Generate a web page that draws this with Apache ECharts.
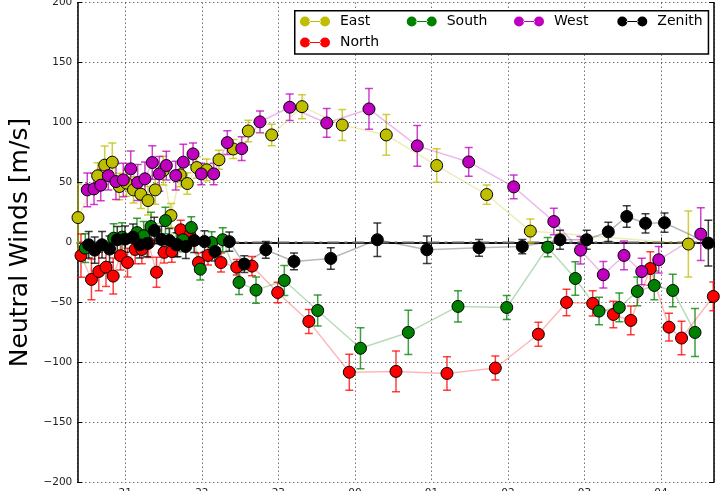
<!DOCTYPE html>
<html>
<head>
<meta charset="utf-8">
<script src="https://cdn.jsdelivr.net/npm/echarts@6/dist/echarts.min.js"></script>
<style>
  html, body { margin: 0; padding: 0; background: #fff; }
  #chart { width: 721px; height: 491px; }
</style>
</head>
<body>
<div id="chart"></div>
<script>
// Universal time in hours (values past midnight continue as 24, 25, ...)
const X_MIN = 20.373;
const X_MAX = 28.692;
const Y_MIN = -200;
const Y_MAX = 200;
const Y_STEP = 50;

// East look direction
const eastT = [20.382, 20.639, 20.731, 20.830, 20.922, 21.016, 21.107, 21.203, 21.297, 21.392,
               21.497, 21.597, 21.719, 21.810, 21.934, 22.064, 22.224, 22.411, 22.607, 22.913,
               23.309, 23.835, 24.410, 25.069, 25.722, 26.292, 28.357];
const eastV = [20.8, 55.6, 64.5, 67.0, 46.7, 49.5, 43.9, 40.3, 35.0, 43.9,
               60.0, 22.5, 56.4, 49.2, 62.5, 60.6, 69.0, 78.0, 93.0, 89.7,
               113.3, 98.0, 89.7, 64.2, 40.0, 9.5, -1.3];
const eastE = [28, 11, 16, 16, 11, 11, 11, 12, 12, 12,
               12, 10, 10, 9, 9, 9, 8, 8, 9, 9,
               10, 13, 17, 14, 8, 10, 27.5];

// North look direction
const northT = [20.421, 20.558, 20.654, 20.748, 20.842, 20.937, 21.029, 21.129, 21.216, 21.303,
                21.408, 21.508, 21.608, 21.724, 21.843, 21.956, 22.081, 22.250, 22.456, 22.656,
                22.991, 23.398, 23.927, 24.537, 25.203, 25.835, 26.397, 26.765, 27.107, 27.377,
                27.605, 27.860, 28.104, 28.268, 28.683];
const northV = [-10.9, -30.8, -24.2, -20.6, -28.0, -11.0, -16.7, -5.8, -5.8, -0.5,
                -24.8, -8.2, -7.5, 10.6, 6.1, -16.7, -10.8, -16.7, -20.6, -19.7,
                -41.7, -65.8, -108.2, -107.5, -109.2, -104.7, -76.5, -50.0, -50.8, -60.0,
                -65.0, -21.7, -70.6, -79.7, -45.0];
const northE = [18, 17, 16, 16, 15, 12, 12, 12, 12, 12,
                12.5, 9, 9, 8, 8, 8, 8, 8, 6.5, 8,
                8.5, 10, 15, 17, 14, 10, 10, 11, 10.5, 11,
                12, 14, 11.5, 14, 12];

// South look direction
const southT = [20.477, 20.848, 20.957, 21.153, 21.240, 21.336, 21.525, 21.666, 21.754, 21.862,
                21.980, 22.129, 22.273, 22.486, 22.708, 23.078, 23.514, 24.073, 24.698, 25.347,
                25.984, 26.519, 26.880, 27.190, 27.455, 27.690, 27.912, 28.153, 28.444];
const southV = [-4.7, 3.6, 4.5, 8.3, 5.6, 13.3, 18.3, -1.9, 2.3, 12.5,
                -22.2, 0.0, 2.3, -33.3, -39.7, -31.7, -56.7, -88.2, -75.0, -53.3,
                -54.2, -3.9, -30.0, -57.2, -54.2, -40.8, -35.8, -40.0, -75.0];
const southE = [12, 12, 12, 12, 12, 12, 11, 10, 10, 9,
                9, 9, 10, 10, 11, 12.5, 13, 17, 18.5, 13,
                10, 8, 14, 11.5, 12, 12, 12, 13.5, 20];

// West look direction
const westT = [20.503, 20.591, 20.679, 20.778, 20.878, 20.974, 21.071, 21.162, 21.257, 21.353,
               21.444, 21.536, 21.659, 21.758, 21.885, 21.993, 22.155, 22.333, 22.521, 22.760,
               23.148, 23.632, 24.184, 24.815, 25.487, 26.075, 26.599, 26.948, 27.246, 27.516,
               27.748, 27.970, 28.519];
const westV = [43.9, 44.7, 47.8, 55.8, 50.8, 52.2, 61.4, 50.0, 53.1, 66.7,
               57.2, 64.2, 55.8, 67.0, 73.9, 57.2, 57.2, 83.3, 78.3, 100.6,
               112.8, 99.7, 111.4, 80.6, 67.2, 46.4, 17.5, -6.4, -26.9, -10.8,
               -24.2, -14.4, 7.0];
const westE = [14, 13, 13, 12, 15, 14, 15, 15, 14, 14,
               14.5, 12, 12, 15, 9, 9, 9, 10, 10, 9,
               11, 12, 17, 17, 12, 10, 11, 11.5, 11, 12,
               11, 11, 22];

// Zenith
const zenithT = [20.522, 20.600, 20.696, 20.794, 20.895, 20.996, 21.101, 21.189, 21.286, 21.379,
                 21.473, 21.575, 21.682, 21.791, 21.900, 22.035, 22.172, 22.359, 22.555, 22.836,
                 23.204, 23.685, 24.293, 24.940, 25.622, 26.187, 26.680, 27.029, 27.311, 27.552,
                 27.797, 28.045, 28.618];
const zenithV = [-1.9, -6.4, -1.9, -5.5, 2.3, 2.8, 4.5, -1.9, -0.8, 10.0,
                 2.5, 1.7, -1.9, -3.3, 1.7, 0.8, -7.5, 0.7, -18.0, -6.1,
                 -15.8, -13.3, 2.3, -6.1, -4.4, -3.4, 2.3, 2.3, 8.9, 21.7,
                 16.0, 16.5, -0.5];
const zenithE = [11, 11, 11, 11, 11, 11, 11, 11, 11, 11,
                 11, 10, 10, 10, 10, 9, 8, 8, 7, 7,
                 7, 9, 14, 11.5, 7, 6, 8, 8, 8, 9,
                 8, 8, 19];

const FONT = 'DejaVu Sans';

const groups = [
  { name: 'East',   color: '#bfbf00', t: eastT,   v: eastV,   e: eastE },
  { name: 'North',  color: '#ff0000', t: northT,  v: northV,  e: northE },
  { name: 'South',  color: '#008000', t: southT,  v: southV,  e: southE },
  { name: 'West',   color: '#bf00bf', t: westT,   v: westV,   e: westE },
  { name: 'Zenith', color: '#000000', t: zenithT, v: zenithV, e: zenithE }
];

function errorBarRenderer(color) {
  return function (params, api) {
    const x = api.value(0), y = api.value(1), e = api.value(2);
    const top = api.coord([x, y + e]);
    const bot = api.coord([x, y - e]);
    const cap = 4;
    const style = { stroke: color, lineWidth: 1.5, opacity: 0.75 };
    return {
      type: 'group',
      children: [
        { type: 'line', shape: { x1: top[0], y1: top[1], x2: bot[0], y2: bot[1] }, style: style },
        { type: 'line', shape: { x1: top[0] - cap, y1: top[1], x2: top[0] + cap, y2: top[1] }, style: style },
        { type: 'line', shape: { x1: bot[0] - cap, y1: bot[1], x2: bot[0] + cap, y2: bot[1] }, style: style }
      ]
    };
  };
}

const series = [];

// dash-dot zero reference
series.push({
  type: 'line',
  name: 'zero',
  data: [[X_MIN, 0], [X_MAX, 0]],
  symbol: 'none',
  silent: true,
  z: 1,
  lineStyle: { color: '#666', width: 2, type: [12, 5, 3, 5] }
});

groups.forEach(function (g) {
  const errData = g.t.map(function (t, i) { return [t, g.v[i], g.e[i]]; });
  const ptData = g.t.map(function (t, i) { return [t, g.v[i]]; });
  series.push({
    type: 'custom',
    name: g.name + ' error',
    renderItem: errorBarRenderer(g.color),
    data: errData,
    encode: { x: 0, y: 1 },
    clip: true,
    silent: true,
    z: 2
  });
  series.push({
    type: 'line',
    name: g.name,
    data: ptData,
    symbol: 'circle',
    symbolSize: 12,
    showAllSymbol: true,
    clip: true,
    z: 2,
    itemStyle: { color: g.color, borderColor: '#000', borderWidth: 1 },
    lineStyle: { color: g.color, width: 1.5, opacity: 0.28 },
    emphasis: { disabled: true }
  });
});

// legend handle: two markers joined by a line
const handleIcon = 'path://M0,5a5,5 0 1,0 10,0a5,5 0 1,0 -10,0zM20,5a5,5 0 1,0 10,0a5,5 0 1,0 -10,0zM9,4.4h12v1.2h-12z';

function legendEntry(name, left, top) {
  return {
    data: [name],
    left: left,
    top: top,
    padding: 0,
    icon: handleIcon,
    itemWidth: 30,
    itemHeight: 10,
    itemStyle: { borderWidth: 0 },
    selectedMode: false,
    textStyle: { fontFamily: FONT, fontSize: 14, color: '#000', padding: [0, 0, 0, 5] },
    z: 5
  };
}

const hourLabel = function (v) {
  const h = Math.round(v) % 24;
  return (h < 10 ? '0' : '') + h;
};
const valueLabel = function (v) {
  return v < 0 ? '\u2212' + Math.abs(v) : String(v);
};

const option = {
  animation: false,
  backgroundColor: '#fff',
  grid: { left: 77.3, right: 7, top: 2.7, bottom: 8.7, containLabel: false, outerBoundsMode: 'none' },
  legend: [
    legendEntry('East', 300, 14.5),
    legendEntry('South', 406.7, 14.5),
    legendEntry('West', 514, 14.5),
    legendEntry('Zenith', 617.3, 14.5),
    legendEntry('North', 300, 35.5)
  ],
  graphic: [{
    type: 'rect',
    left: 294, top: 10,
    shape: { width: 413.7, height: 43.3 },
    style: { fill: '#fff', stroke: '#000', lineWidth: 1.5 },
    z: 3,
    silent: true
  }],
  xAxis: [{
    type: 'value',
    min: X_MIN, max: X_MAX, splitNumber: 8,
    position: 'bottom',
    axisLine: { lineStyle: { color: '#000', width: 1.5 } },
    axisTick: { inside: true, length: 5, lineStyle: { color: '#000' } },
    axisLabel: { margin: 5, fontFamily: FONT, fontSize: 10.5, color: '#222',
                 formatter: hourLabel, showMinLabel: false, showMaxLabel: false },
    splitLine: { show: true, lineStyle: { color: '#333', width: 1, type: [1, 3] } }
  }, {
    type: 'value',
    min: X_MIN, max: X_MAX, splitNumber: 8,
    position: 'top',
    axisLine: { lineStyle: { color: '#000', width: 1.5 } },
    axisTick: { inside: true, length: 5, lineStyle: { color: '#000' } },
    axisLabel: { show: false },
    splitLine: { show: false }
  }],
  yAxis: [{
    type: 'value',
    min: Y_MIN, max: Y_MAX, interval: Y_STEP,
    position: 'left',
    name: 'Neutral Winds [m/s]',
    nameLocation: 'middle',
    nameRotate: 90,
    nameGap: 42,
    nameTextStyle: { fontFamily: FONT, fontSize: 25, color: '#000' },
    axisLine: { lineStyle: { color: '#000', width: 1.5 } },
    axisTick: { inside: true, length: 5, lineStyle: { color: '#000' } },
    axisLabel: { margin: 5, fontFamily: FONT, fontSize: 10.5, color: '#222', formatter: valueLabel },
    splitLine: { show: true, lineStyle: { color: '#333', width: 1, type: [1, 3] } }
  }, {
    type: 'value',
    min: Y_MIN, max: Y_MAX, interval: Y_STEP,
    position: 'right',
    axisLine: { lineStyle: { color: '#000', width: 1.5 } },
    axisTick: { inside: true, length: 5, lineStyle: { color: '#000' } },
    axisLabel: { show: false },
    splitLine: { show: false }
  }],
  series: series
};

const chart = echarts.init(document.getElementById('chart'), null, { renderer: 'canvas' });
chart.setOption(option);
</script>
</body>
</html>
